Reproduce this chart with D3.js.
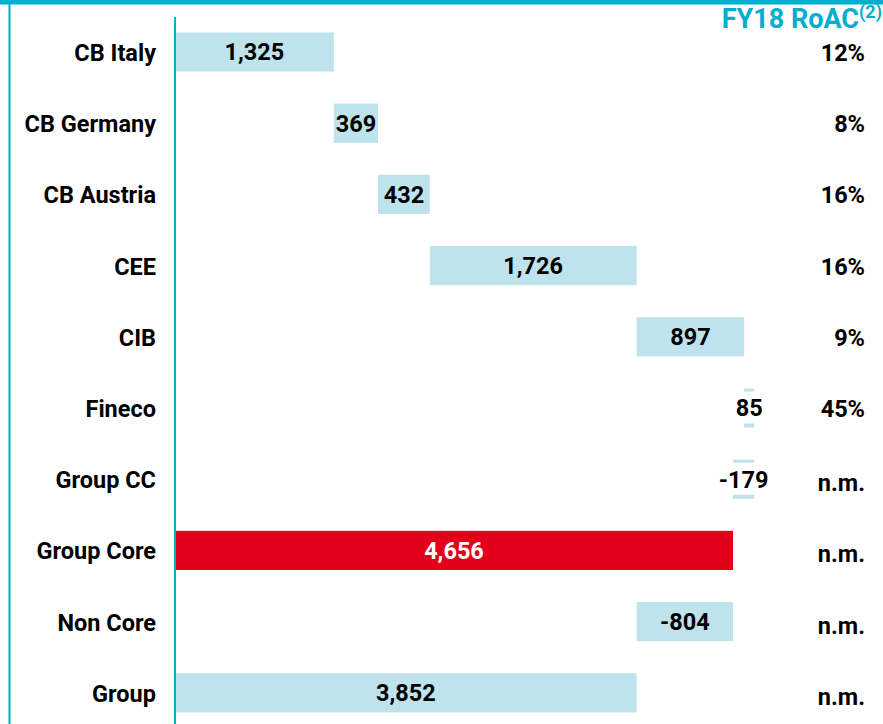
<!DOCTYPE html>
<html>
<head>
<meta charset="utf-8">
<script src="https://cdn.jsdelivr.net/npm/d3@7"></script>
<style>
  body { margin: 0; background: #fff; }
  svg { display: block; font-family: Roboto, "Open Sans", sans-serif; }
</style>
</head>
<body>
<div id="chart"></div>
<script>
// Chart data
const categories = ['CB Italy', 'CB Germany', 'CB Austria', 'CEE', 'CIB', 'Fineco', 'Group CC', 'Group Core', 'Non Core', 'Group'];
const values = [1325, 369, 432, 1726, 897, 85, -179, 4656, -804, 3852];
const isTotal = [false, false, false, false, false, false, false, true, false, true];
const roac = ['12%', '8%', '16%', '16%', '9%', '45%', 'n.m.', 'n.m.', 'n.m.', 'n.m.'];

const colors = {
    teal: '#00AECF',
    bar: '#BFE3EC',
    total: '#E2001A',
    text: '#000'
};

const width = 883;
const height = 724;

// build waterfall start/end
let running = 0;
const rows = categories.map((c, i) => {
    let start, end;
    if (isTotal[i]) {
        start = 0;
        end = values[i];
    } else {
        start = running;
        end = running + values[i];
    }
    running = end;
    return { name: c, value: values[i], start, end, total: isTotal[i], roac: roac[i] };
});

const x = d3.scaleLinear().domain([0, 4656]).range([175, 733]);
const y = d3.scaleBand().domain(categories).range([16.4, 728.4])
    .paddingInner(0.45).paddingOuter(0.225);

const svg = d3.select('#chart').append('svg')
    .attr('width', width)
    .attr('height', height);

// frame lines
svg.append('rect').attr('x', 0).attr('y', 0).attr('width', width).attr('height', 4.5).attr('fill', colors.teal);
svg.append('rect').attr('x', 8.5).attr('y', 0).attr('width', 2).attr('height', height).attr('fill', colors.teal);

// bars
svg.selectAll('.bar')
    .data(rows)
    .enter()
    .append('rect')
    .attr('class', 'bar')
    .attr('x', d => x(Math.min(d.start, d.end)))
    .attr('y', d => y(d.name))
    .attr('width', d => Math.abs(x(d.end) - x(d.start)))
    .attr('height', y.bandwidth())
    .attr('fill', d => d.name === 'Group Core' ? colors.total : colors.bar);

// axis line
svg.append('line')
    .attr('x1', x(0)).attr('x2', x(0))
    .attr('y1', 17).attr('y2', height)
    .attr('stroke', colors.teal)
    .attr('stroke-width', 2);

// value labels (plain hyphen for negatives, like the source)
const fmt = v => d3.format(',')(v).replace('\u2212', '-');
const labels = svg.selectAll('.val')
    .data(rows)
    .enter()
    .append('g')
    .attr('class', 'val')
    .attr('transform', d => `translate(${(x(d.start) + x(d.end)) / 2}, ${y(d.name) + y.bandwidth() / 2})`);

labels.append('text')
    .attr('text-anchor', 'middle')
    .attr('dy', '0.36em')
    .style('font-size', '23.5px')
    .style('font-weight', 'bold')
    .style('fill', d => d.name === 'Group Core' ? '#fff' : colors.text)
    .text(d => fmt(d.value));

// white backing for labels wider than their bar
labels.each(function (d) {
    const g = d3.select(this);
    const barW = Math.abs(x(d.end) - x(d.start));
    const bb = g.select('text').node().getBBox();
    if (bb.width > barW) {
        g.insert('rect', 'text')
            .attr('x', bb.x - 2)
            .attr('y', -16.5)
            .attr('width', bb.width + 4)
            .attr('height', 32)
            .attr('fill', '#fff');
    }
});

// category labels
svg.selectAll('.cat')
    .data(rows)
    .enter()
    .append('text')
    .attr('class', 'cat')
    .attr('x', 156)
    .attr('y', d => y(d.name) + y.bandwidth() / 2)
    .attr('dy', '0.38em')
    .attr('text-anchor', 'end')
    .style('font-size', '23.5px')
    .style('font-weight', 'bold')
    .style('fill', colors.text)
    .text(d => d.name);

// RoAC column
svg.selectAll('.roac')
    .data(rows)
    .enter()
    .append('text')
    .attr('class', 'roac')
    .attr('x', 865)
    .attr('y', d => y(d.name) + y.bandwidth() / 2 + (d.roac === 'n.m.' ? 3 : 0))
    .attr('dy', '0.38em')
    .attr('text-anchor', 'end')
    .style('font-size', '23.5px')
    .style('font-weight', 'bold')
    .style('fill', colors.text)
    .text(d => d.roac);

// column title
const title = svg.append('text')
    .attr('x', 882)
    .attr('y', 28)
    .attr('text-anchor', 'end')
    .style('font-size', '27px')
    .style('font-weight', 'bold')
    .style('fill', colors.teal);
title.append('tspan').text('FY18 RoAC');
title.append('tspan').attr('dy', -10).style('font-size', '18px').text('(2)');
</script>
</body>
</html>
